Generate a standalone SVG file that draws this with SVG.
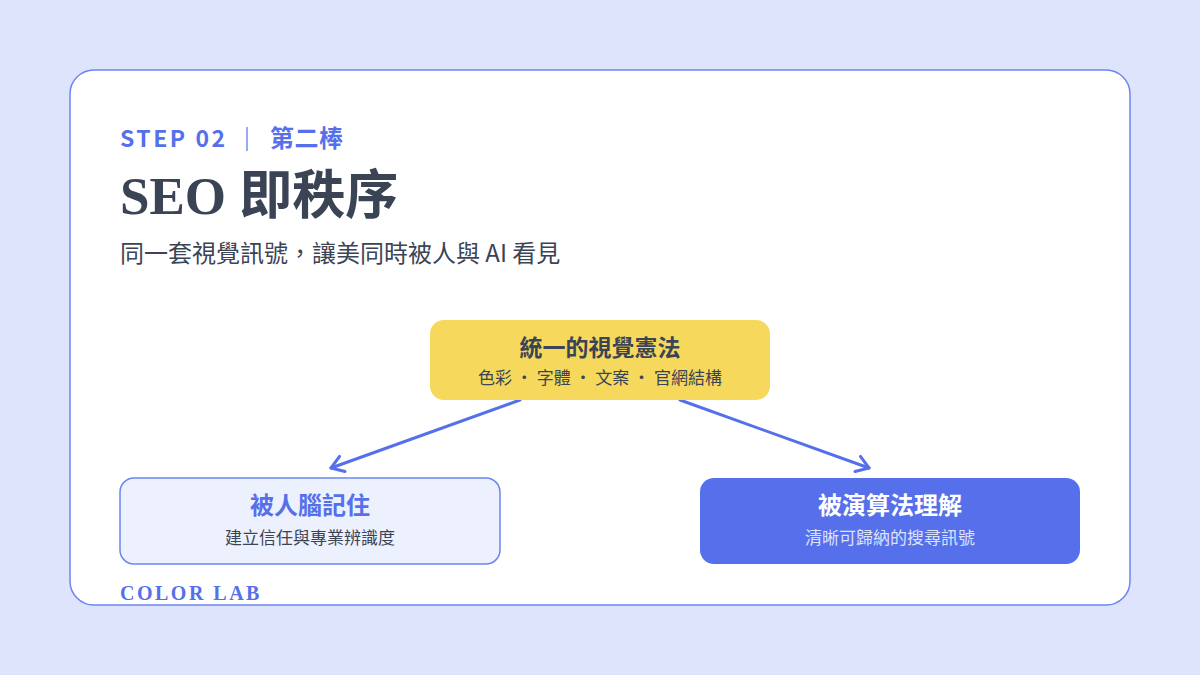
<svg xmlns="http://www.w3.org/2000/svg" width="1200" height="675" viewBox="0 0 1200 675">
<defs>
<style>
.sans{font-family:"Noto Sans CJK TC","Noto Sans",sans-serif;}
.serif{font-family:"Liberation Serif","Noto Sans CJK TC",serif;}
.conn{stroke:#5570ea;stroke-width:3;fill:none;stroke-linecap:round;}
</style>
<marker id="arr" viewBox="0 0 20 20" refX="17" refY="10" markerWidth="20" markerHeight="20" markerUnits="userSpaceOnUse" orient="auto">
<path d="M5,2 L17,10 L5,18" fill="none" stroke="#5570ea" stroke-width="3" stroke-linecap="round" stroke-linejoin="round"/>
</marker>
</defs>
<rect width="1200" height="675" fill="#dde4fb"/>
<rect x="70" y="70" width="1060" height="535" rx="24" fill="#ffffff" stroke="#6b86f0" stroke-width="1.5"/>
<g id="header">
<text x="120" y="147" class="sans" font-size="23" font-weight="700" fill="#5570ea" letter-spacing="2.5">STEP 02</text>
<line x1="247" y1="127" x2="247" y2="151" stroke="#5570ea" stroke-width="1.2"/>
<text x="270" y="147" class="sans" font-size="24" font-weight="700" fill="#5570ea" letter-spacing="0.5">第二棒</text>
<text x="120" y="214" class="serif" font-size="53" font-weight="700" fill="#3b4455">SEO 即秩序</text>
<text x="120" y="262" class="sans" font-size="24" fill="#3b4455">同一套視覺訊號，讓美同時被人與 AI 看見</text>
</g>
<g id="connectors">
<line x1="520" y1="400" x2="331" y2="468" class="conn" marker-end="url(#arr)"/>
<line x1="680" y1="400" x2="869" y2="468" class="conn" marker-end="url(#arr)"/>
</g>
<g id="node-top">
<rect x="430" y="320" width="340" height="80" rx="14" fill="#f6d95c"/>
<text x="600" y="356" class="sans" font-size="23" font-weight="700" fill="#3b4455" text-anchor="middle">統一的視覺憲法</text>
<text x="600" y="384" class="sans" font-size="17" fill="#3b4455" text-anchor="middle">色彩 ・ 字體 ・ 文案 ・ 官網結構</text>
</g>
<g id="node-left">
<rect x="120" y="478" width="380" height="86" rx="14" fill="#edf1fd" stroke="#6b86f0" stroke-width="1.5"/>
<text x="310" y="514" class="sans" font-size="24" font-weight="700" fill="#5570ea" text-anchor="middle">被人腦記住</text>
<text x="310" y="544" class="sans" font-size="17" fill="#3b4455" text-anchor="middle">建立信任與專業辨識度</text>
</g>
<g id="node-right">
<rect x="700" y="478" width="380" height="86" rx="14" fill="#5570ea"/>
<text x="890" y="514" class="sans" font-size="24" font-weight="700" fill="#ffffff" text-anchor="middle">被演算法理解</text>
<text x="890" y="544" class="sans" font-size="17" fill="#dbe2fc" text-anchor="middle">清晰可歸納的搜尋訊號</text>
</g>
<text x="120" y="600" class="serif" font-size="20" font-weight="700" fill="#5570ea" letter-spacing="2.5">COLOR LAB</text>
</svg>
